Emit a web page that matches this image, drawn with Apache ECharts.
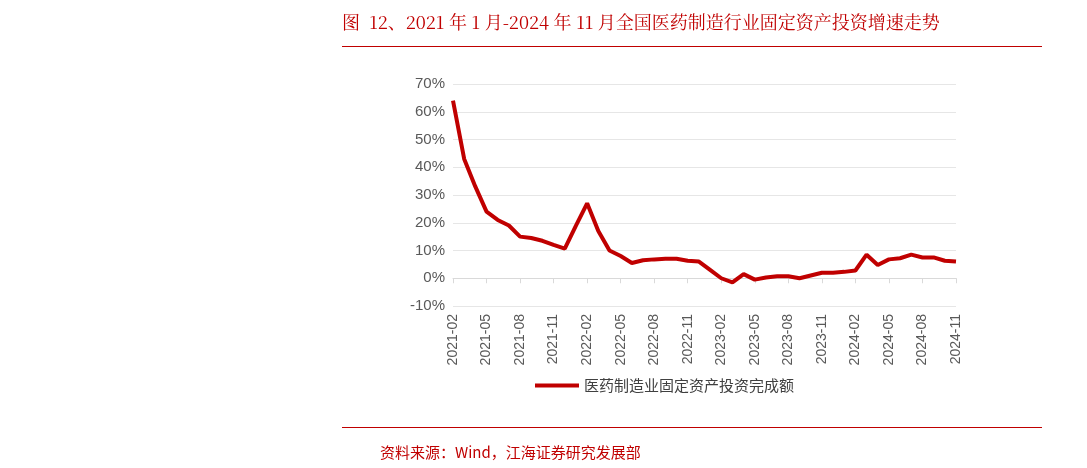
<!DOCTYPE html><html><head><meta charset="utf-8"><script src="https://cdn.jsdelivr.net/npm/echarts@6/dist/echarts.min.js"></script>
<style>body{margin:0;background:#fff}#c{width:1087px;height:468px}</style></head><body><div id="c"></div><script>
const values=[64,43,33,24,21,19,15,14.5,13.5,12,10.7,19,27,17,10,8,5.5,6.5,6.8,7,7,6.3,6,3,0,-1.5,1.5,-0.5,0.3,0.7,0.7,0,1,2,2,2.3,2.8,8.5,4.8,6.8,7.2,8.5,7.5,7.5,6.3,6.0];
const categories=[];
for(let i=0;i<values.length;i++){const m=i+1;const y=2021+Math.floor(m/12);const mm=(m%12)+1;categories.push(y+'-'+String(mm).padStart(2,'0'));}
const chart=echarts.init(document.getElementById('c'));
chart.setOption({
 animation:false,
 graphic:[
  {type:'text',left:342,top:13,style:{text:'图  12、2021 年 1 月-2024 年 11 月全国医药制造行业固定资产投资增速走势',fill:'#c00000',font:'18px "Noto Serif CJK SC","Noto Sans CJK SC",serif'}},
  {type:'rect',shape:{x:342,y:46,width:700,height:1},style:{fill:'#c00000'}},
  {type:'rect',shape:{x:342,y:427,width:700,height:1},style:{fill:'#c00000'}},
  {type:'text',left:380,top:445,style:{text:'资料来源：Wind，江海证券研究发展部',fill:'#c00000',font:'15px "Noto Sans CJK SC",serif'}}
 ],
 legend:{top:373,left:530,itemWidth:44,itemHeight:4,icon:'rect',textStyle:{fontSize:15,color:'#404040',fontFamily:'Noto Sans CJK SC'},data:['医药制造业固定资产投资完成额']},
 grid:{left:453,right:131,top:84,bottom:162},
 xAxis:{type:'category',data:categories,boundaryGap:false,axisLine:{lineStyle:{color:'#d9d9d9'}},axisTick:{show:true,interval:2,lineStyle:{color:'#d9d9d9'}},
  axisLabel:{interval:2,rotate:90,color:'#595959',fontSize:14,fontFamily:'Liberation Sans'}},
 yAxis:{type:'value',min:-10,max:70,interval:10,axisLabel:{formatter:'{value}%',color:'#595959',fontSize:15,fontFamily:'Liberation Sans'},splitLine:{lineStyle:{color:'#e6e6e6'}},axisLine:{show:false},axisTick:{show:false}},
 series:[{name:'医药制造业固定资产投资完成额',type:'line',data:values,symbol:'none',lineStyle:{color:'#c00000',width:4},itemStyle:{color:'#c00000'}}]
});
</script></body></html>
